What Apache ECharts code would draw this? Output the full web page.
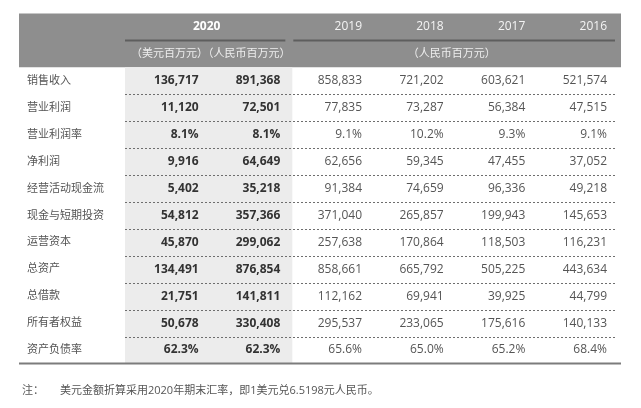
<!DOCTYPE html>
<html>
<head>
<meta charset="utf-8">
<script src="https://cdn.jsdelivr.net/npm/echarts@6/dist/echarts.min.js"></script>
<style>html,body{margin:0;padding:0;background:#fff}#c{width:641px;height:408px}</style>
</head>
<body>
<div id="c"></div>
<script>
// ---- data ----
const rowLabels = ['销售收入','营业利润','营业利润率','净利润','经营活动现金流','现金与短期投资','运营资本','总资产','总借款','所有者权益','资产负债率'];
const pctRows = [2, 10];
const usd2020 = [136717, 11120, 8.1, 9916, 5402, 54812, 45870, 134491, 21751, 50678, 62.3];
const rmb2020 = [891368, 72501, 8.1, 64649, 35218, 357366, 299062, 876854, 141811, 330408, 62.3];
const rmb2019 = [858833, 77835, 9.1, 62656, 91384, 371040, 257638, 858661, 112162, 295537, 65.6];
const rmb2018 = [721202, 73287, 10.2, 59345, 74659, 265857, 170864, 665792, 69941, 233065, 65.0];
const rmb2017 = [603621, 56384, 9.3, 47455, 96336, 199943, 118503, 505225, 39925, 175616, 65.2];
const rmb2016 = [521574, 47515, 9.1, 37052, 49218, 145653, 116231, 443634, 44799, 140133, 68.4];
const yearLabels = ['2020', '2019', '2018', '2017', '2016'];
const unitLabels = ['（美元百万元）（人民币百万元）', '（人民币百万元）'];
const noteLabel = '注：';
const noteText = '美元金额折算采用2020年期末汇率，即1美元兑6.5198元人民币。';

const columns = [usd2020, rmb2020, rmb2019, rmb2018, rmb2017, rmb2016];
const colKeys = ['usd2020', 'rmb2020', '2019', '2018', '2017', '2016'];
const rowKeys = ['h0', 'h1'].concat(rowLabels);
const FONT = "'Open Sans','Noto Sans CJK SC',sans-serif";

function fmt(v, r) {
  return pctRows.indexOf(r) >= 0 ? v.toFixed(1) + '%' : v.toLocaleString('en-US');
}

const cellData = [];
columns.forEach((col, c) => {
  col.forEach((v, r) => cellData.push([c, r + 2, fmt(v, r), c < 2 ? 1 : 0]));
});

const chart = echarts.init(document.getElementById('c'), null, { renderer: 'canvas' });

function decorRender(params, api) {
  const cs = params.coordSys;
  const bw = api.size([1, 0])[0];
  const bh = api.size([0, 1])[1];
  const L = cs.x - 106, R = cs.x + cs.width + 6;
  const ch = [];
  ch.push({ type: 'rect', shape: { x: L, y: cs.y, width: R - L, height: bh * 2 }, style: { fill: '#8e8e8e' } });
  ch.push({ type: 'rect', shape: { x: cs.x, y: cs.y + bh * 2, width: bw * 2 + 4, height: cs.height - bh * 2 }, style: { fill: '#ececec' } });
  const hy = cs.y + bh;
  ch.push({ type: 'line', shape: { x1: cs.x, y1: hy, x2: cs.x + bw * 2 - 3, y2: hy }, style: { stroke: '#5e5e5e', lineWidth: 2 } });
  ch.push({ type: 'line', shape: { x1: cs.x + bw * 2 + 5, y1: hy, x2: cs.x + cs.width, y2: hy }, style: { stroke: '#5e5e5e', lineWidth: 2 } });
  for (let r = 2; r < rowKeys.length - 1; r++) {
    const y = Math.round(api.coord([0, r])[1] + bh / 2) + 0.5;
    ch.push({ type: 'line', shape: { x1: cs.x, y1: y, x2: cs.x + cs.width, y2: y }, style: { stroke: '#6e6e6e', lineWidth: 1, lineDash: [2, 2] } });
  }
  const by = cs.y + cs.height;
  ch.push({ type: 'line', shape: { x1: L, y1: by, x2: R, y2: by }, style: { stroke: '#7c7c7c', lineWidth: 2 } });
  return { type: 'group', children: ch };
}

function headerRender(params, api) {
  const bw = api.size([1, 0])[0];
  const ch = [];
  const p0 = api.coord([0, 0]);
  const p0b = api.coord([0, 1]);
  const cx0 = p0[0] + bw / 2;
  ch.push({ type: 'text', style: { x: cx0, y: p0[1], text: yearLabels[0], fill: '#ffffff', font: 'bold 12px ' + FONT, align: 'center', verticalAlign: 'middle' } });
  ch.push({ type: 'text', style: { x: cx0 + 4, y: p0b[1], text: unitLabels[0], fill: '#eeeeee', font: '11px ' + FONT, align: 'center', verticalAlign: 'middle' } });
  for (let i = 1; i < yearLabels.length; i++) {
    const p = api.coord([i + 1, 0]);
    ch.push({ type: 'text', style: { x: p[0] + bw / 2 - 8, y: p[1], text: yearLabels[i], fill: '#f4f4f4', font: '12px ' + FONT, align: 'right', verticalAlign: 'middle' } });
  }
  const p2 = api.coord([2, 1]);
  ch.push({ type: 'text', style: { x: p2[0] - bw / 2 + bw * 2, y: p2[1], text: unitLabels[1], fill: '#eeeeee', font: '11px ' + FONT, align: 'center', verticalAlign: 'middle' } });
  return { type: 'group', children: ch };
}

function cellRender(params, api) {
  const bw = api.size([1, 0])[0];
  const p = api.coord([api.value(0), api.value(1)]);
  const bold = api.value(3) === 1;
  return {
    type: 'text',
    style: {
      x: p[0] + bw / 2 - 8, y: p[1],
      text: cellData[params.dataIndex][2],
      fill: bold ? '#333333' : '#555555',
      font: (bold ? 'bold ' : '') + '12px ' + FONT,
      align: 'right', verticalAlign: 'middle'
    }
  };
}

chart.setOption({
  animation: false,
  backgroundColor: '#ffffff',
  title: [
    { text: noteLabel, left: 17, top: 380, textStyle: { fontSize: 11, fontWeight: 'normal', color: '#555', fontFamily: FONT } },
    { text: noteText, left: 55, top: 380, textStyle: { fontSize: 11, fontWeight: 'normal', color: '#555', fontFamily: FONT } }
  ],
  grid: { left: 125, right: 26, top: 13.5, bottom: 44.5, containLabel: false },
  xAxis: { type: 'category', data: colKeys, show: false },
  yAxis: {
    type: 'category', data: rowKeys, inverse: true,
    axisLine: { show: false }, axisTick: { show: false }, splitLine: { show: false },
    axisLabel: {
      show: true, align: 'left', margin: 98, color: '#555', fontSize: 11, fontFamily: FONT,
      formatter: v => (v === 'h0' || v === 'h1') ? '' : v
    }
  },
  series: [
    { type: 'custom', z: 1, silent: true, data: [[0, 0]], renderItem: decorRender },
    { type: 'custom', z: 3, silent: true, data: [[0, 0]], renderItem: headerRender },
    { type: 'custom', z: 3, silent: true, data: cellData, renderItem: cellRender }
  ]
});
</script>
</body>
</html>
